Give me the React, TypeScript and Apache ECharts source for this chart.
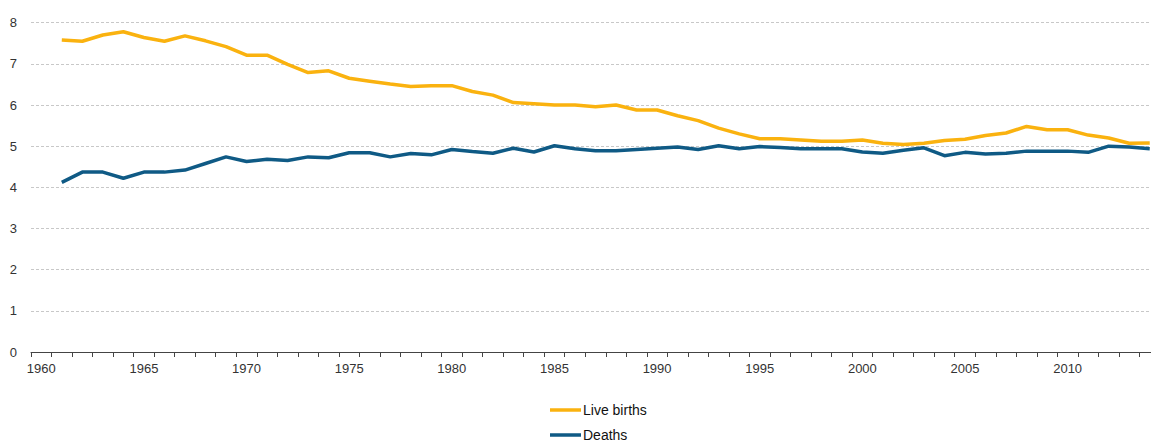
import React, { useEffect, useRef } from "react";
import * as echarts from "echarts";

const years: string[] = [];
for (let y = 1960; y <= 2014; y++) years.push(String(y));

const liveBirths: (number | null)[] = [
  null,
  7.58, 7.55, 7.70, 7.78, 7.64, 7.55, 7.68, 7.56, 7.42, 7.21,
  7.21, 6.99, 6.79, 6.83, 6.65, 6.58, 6.51, 6.45, 6.47, 6.47,
  6.33, 6.24, 6.06, 6.03, 6.00, 6.00, 5.96, 6.00, 5.88, 5.88,
  5.74, 5.62, 5.44, 5.30, 5.18, 5.18, 5.15, 5.12, 5.12, 5.15,
  5.07, 5.04, 5.07, 5.14, 5.17, 5.26, 5.32, 5.48, 5.40, 5.40,
  5.27, 5.20, 5.07, 5.08,
];

const deaths: (number | null)[] = [
  null,
  4.12, 4.37, 4.37, 4.22, 4.37, 4.37, 4.42, 4.58, 4.74, 4.63,
  4.68, 4.65, 4.74, 4.72, 4.84, 4.84, 4.74, 4.82, 4.79, 4.92,
  4.87, 4.83, 4.95, 4.86, 5.01, 4.94, 4.89, 4.89, 4.92, 4.95,
  4.98, 4.92, 5.01, 4.94, 4.99, 4.97, 4.94, 4.94, 4.94, 4.86,
  4.83, 4.90, 4.96, 4.77, 4.85, 4.81, 4.83, 4.88, 4.88, 4.88,
  4.85, 5.00, 4.98, 4.94,
];

const seriesNames = ["Live births", "Deaths"];
const colors = ["#FAB20F", "#0F5A85"];

export default function App() {
  const ref = useRef<HTMLDivElement>(null);
  useEffect(() => {
    if (!ref.current) return;
    const chart = echarts.init(ref.current, null, { renderer: "svg" });
    const font = "Liberation Sans, Arial, sans-serif";
    const legendBase = {
      orient: "horizontal",
      left: 550,
      icon: "rect",
      itemWidth: 31,
      itemHeight: 3.5,
      padding: 0,
      textStyle: { fontSize: 14, color: "#111", fontFamily: font, padding: [0, 0, 0, -3] },
    };
    chart.setOption({
      animation: false,
      textStyle: { fontFamily: font },
      grid: {
        left: 31,
        right: -9,
        top: 22.7,
        bottom: 89,
        containLabel: false,
        outerBoundsMode: "none",
      },
      legend: [
        { ...legendBase, top: 403, data: [seriesNames[0]] },
        { ...legendBase, top: 428, data: [seriesNames[1]] },
      ],
      xAxis: {
        type: "category",
        data: years,
        boundaryGap: true,
        axisLine: { show: true, lineStyle: { color: "#444", width: 1 } },
        axisTick: { show: true, length: 5, interval: 0, lineStyle: { color: "#444" } },
        axisLabel: { interval: 4, color: "#333", fontSize: 13, margin: 10, fontFamily: font },
        splitLine: { show: false },
      },
      yAxis: {
        type: "value",
        min: 0,
        max: 8,
        interval: 1,
        axisLine: { show: false },
        axisTick: { show: false },
        axisLabel: { color: "#333", fontSize: 13, margin: 14, fontFamily: font },
        splitLine: { show: true, lineStyle: { color: "#c8c8c8", type: [3, 2], width: 1 } },
      },
      series: [
        {
          name: seriesNames[0],
          type: "line",
          data: liveBirths,
          showSymbol: false,
          symbol: "none",
          lineStyle: { color: colors[0], width: 3.5 },
          itemStyle: { color: colors[0] },
          z: 3,
        },
        {
          name: seriesNames[1],
          type: "line",
          data: deaths,
          showSymbol: false,
          symbol: "none",
          lineStyle: { color: colors[1], width: 3.5 },
          itemStyle: { color: colors[1] },
          z: 4,
        },
      ],
    });
    return () => chart.dispose();
  }, []);
  return (
    <div
      ref={ref}
      style={{ position: "absolute", left: 0, top: 0, width: 1151, height: 441, background: "#fff" }}
    />
  );
}
